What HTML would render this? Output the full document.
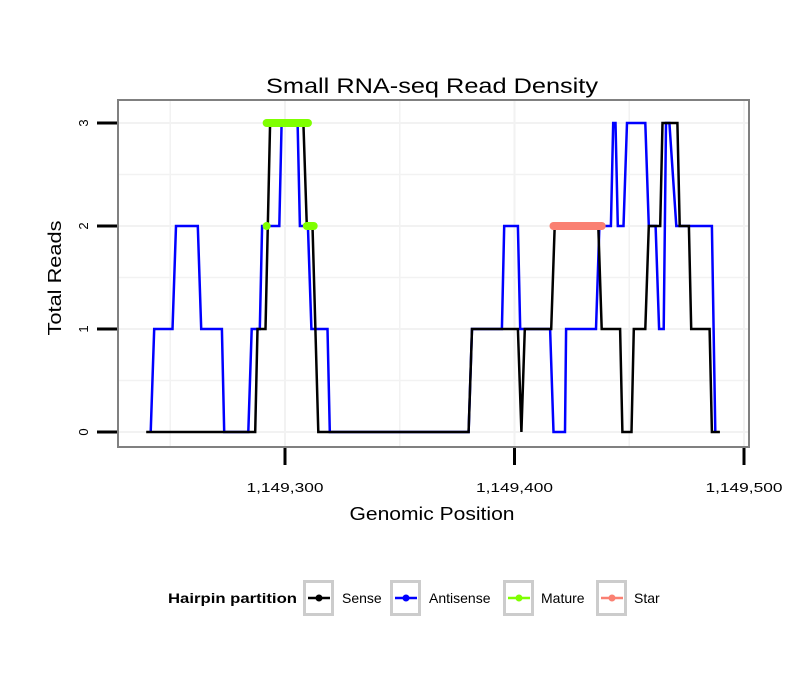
<!DOCTYPE html>
<html><head><meta charset="utf-8"><style>
body{margin:0;background:#fff;}
svg text{font-family:"Liberation Sans",sans-serif;}
</style></head><body>
<svg width="810" height="690">
<g id="grid"></g>
<g id="series"></g>
<rect x="118" y="100" width="631" height="347" fill="none" stroke="#808080" stroke-width="2"/>
<g id="axes"></g>
<text x="432" y="93" font-size="21" text-anchor="middle" textLength="332" lengthAdjust="spacingAndGlyphs">Small RNA-seq Read Density</text>
<text x="432" y="520" font-size="18" text-anchor="middle" textLength="165" lengthAdjust="spacingAndGlyphs">Genomic Position</text>
<text transform="translate(61,278) rotate(-90)" font-size="18" text-anchor="middle" textLength="115" lengthAdjust="spacingAndGlyphs">Total Reads</text>
<g id="legend">
<text x="168" y="603" font-size="14" font-weight="bold" textLength="129" lengthAdjust="spacingAndGlyphs">Hairpin partition</text>
</g>
</svg>
<script>
const base = 1149300;
const xTicks = [1149300, 1149400, 1149500];
const xTickLabels = ["1,149,300", "1,149,400", "1,149,500"];
const yTicks = [0, 1, 2, 3];
const senseX = [-60.5,-13,-12,-8.5,-6.5,8,9.5,12,14.5,80,81.5,101.5,103,104.5,116,117.5,136.5,138,146,147,151,152,157,158.5,163.5,164.5,171,172,176,177,185,186,189.5];
const senseY = [0,0,1,1,3,3,2,2,0,0,1,1,0,1,1,2,2,1,1,0,0,1,1,2,2,3,3,2,2,1,1,0,0];
const antiX = [-58.5,-57,-49,-47.5,-38,-36.5,-27.5,-26.5,-16,-14.5,-11,-10,-2.5,-1.5,5.5,6.5,10,11.5,18.5,19.5,80,81.5,94.5,95.5,101.5,102.5,115.5,117,122,122.5,135.5,137,142,143,144,145,147.5,149,157,158.5,161.5,163,165,166,167.5,170.5,186,187.5];
const antiY = [0,1,1,2,2,1,1,0,0,1,1,2,2,3,3,2,2,1,1,0,0,1,1,2,2,1,1,0,0,1,1,2,2,3,3,2,2,3,3,2,2,1,1,3,3,2,2,0];
const matureStart = [-8, -8, 9.5];
const matureEnd = [10, -8, 12.5];
const matureVal = [3, 2, 2];
const starStart = [117];
const starEnd = [138];
const starVal = [2];
const legendLabels = ["Sense","Antisense","Mature","Star"];
const legendColors = ["#000000","#0000ff","#7fff00","#fa8072"];

const NS="http://www.w3.org/2000/svg";
function X(off){return 285 + off*2.295;}
function XG(g){return X(g-base);}
function Y(v){return 432 - v*103;}
function mk(tag,attrs,parent){const e=document.createElementNS(NS,tag);for(const k in attrs)e.setAttribute(k,attrs[k]);parent.appendChild(e);return e;}
const grid=document.getElementById('grid'),ser=document.getElementById('series'),axes=document.getElementById('axes'),leg=document.getElementById('legend');
for(let g=1149250; g<=1149500; g+=50){const x=XG(g); if(x<119||x>748)continue;
 const l=mk('line',{x1:x,x2:x,y1:101,y2:446,stroke:'#f2f2f2','stroke-width':g%100===0?2:1.5},grid);
 
 }
for(let v=0; v<=3; v+=0.5){const y=Y(v);
 const l=mk('line',{x1:119,x2:748,y1:y,y2:y,stroke:'#f2f2f2','stroke-width':v%1===0?2:1.5},grid);
 
 }
function poly(xs,ys,color,name){let p='';for(let i=0;i<Math.min(xs.length,ys.length);i++)p+=(i?'L':'M')+X(xs[i]).toFixed(1)+','+Y(ys[i]).toFixed(1);
 const e=mk('path',{d:p,fill:'none',stroke:color,'stroke-width':2.5,'stroke-linejoin':'miter'},ser);
 
 }
poly(antiX,antiY,'#0000ff','antisense-line');
poly(senseX,senseY,'#000000','sense-line');
function segs(s,e,v,color,name){for(let i=0;i<s.length;i++){
 const l=mk('line',{x1:X(s[i]),x2:X(e[i]),y1:Y(v[i]),y2:Y(v[i]),stroke:color,'stroke-width':8,'stroke-linecap':'round'},ser);
 
 }}
segs(matureStart,matureEnd,matureVal,'#7fff00','mature-segment');
segs(starStart,starEnd,starVal,'#fa8072','star-segment');
xTicks.forEach((g,i)=>{const x=XG(g);
 const t=mk('line',{x1:x,x2:x,y1:448,y2:465,stroke:'#000','stroke-width':3},axes);
 
 
 const tx=mk('text',{x:x,y:492,'font-size':13,'text-anchor':'middle',textLength:77,lengthAdjust:'spacingAndGlyphs'},axes);tx.textContent=xTickLabels[i];
 
 });
yTicks.forEach(v=>{const y=Y(v);
 const t=mk('line',{x1:97,x2:117,y1:y,y2:y,stroke:'#000','stroke-width':3},axes);
 
 
 const tx=mk('text',{transform:`translate(88,${y}) rotate(-90)`,'font-size':13,'text-anchor':'middle'},axes);tx.textContent=v;
 
 });
const boxX=[303,390,503,596],textX=[342,429,541,634];
legendLabels.forEach((lab,i)=>{
 const g=mk('g',{},leg);
 
 
 mk('rect',{x:boxX[i]+1.5,y:581.5,width:28,height:33,fill:'#fff',stroke:'#cccccc','stroke-width':3},g);
 mk('line',{x1:boxX[i]+5,x2:boxX[i]+27,y1:598,y2:598,stroke:legendColors[i],'stroke-width':2.5},g);
 mk('circle',{cx:boxX[i]+16,cy:598,r:3.5,fill:legendColors[i]},g);
 const t=mk('text',{x:textX[i],y:603,'font-size':14},g);t.textContent=lab;});
</script>
</body></html>
